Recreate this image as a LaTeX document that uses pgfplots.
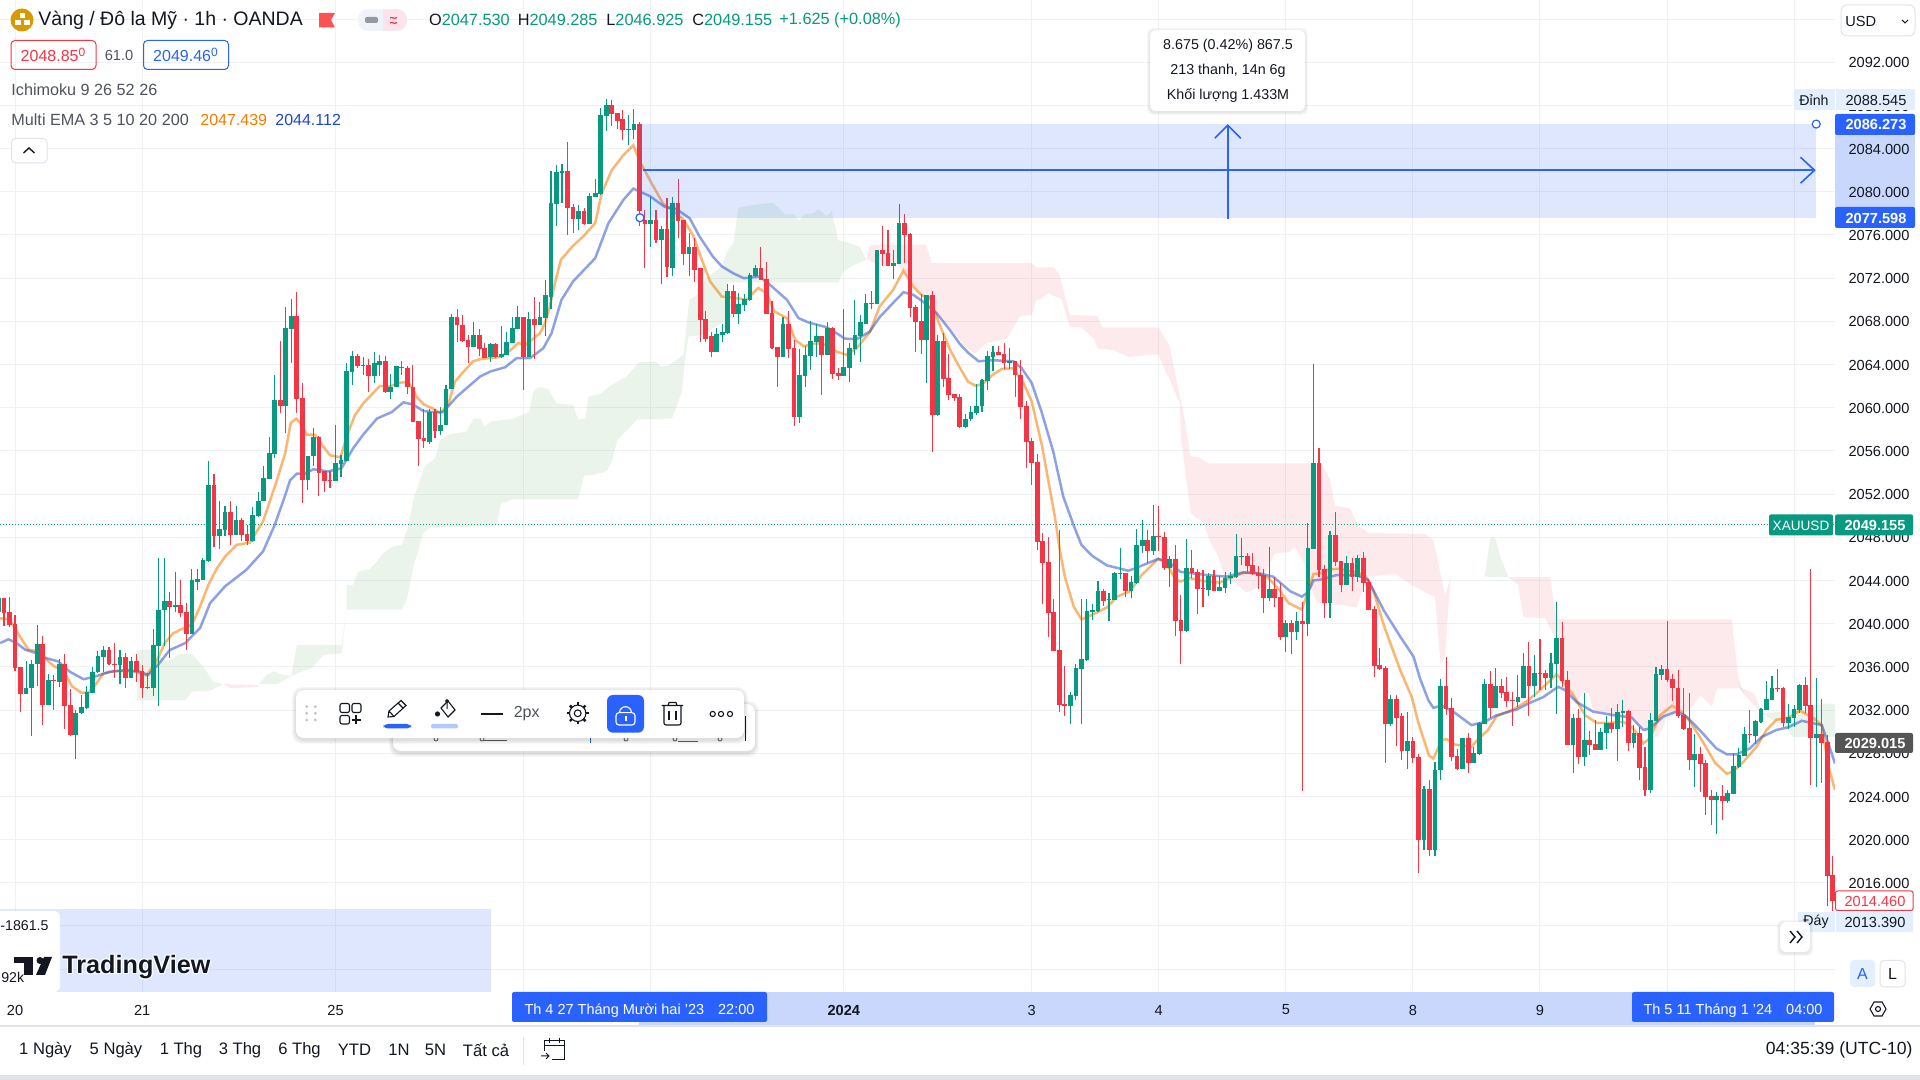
\documentclass[border=0pt]{standalone}
\usepackage{fontspec}
\setmainfont{Liberation Sans}
\usepackage{pgfplots}
\pgfplotsset{compat=1.18}
\usepackage{pgfplotstable}
\usetikzlibrary{arrows.meta,calc}
\definecolor{up}{HTML}{089981}
\definecolor{dn}{HTML}{F23645}
\definecolor{sel}{HTML}{2962FF}
\definecolor{txt}{HTML}{131722}
\definecolor{muted}{HTML}{50535E}
\definecolor{gridc}{HTML}{EFF1F5}
\definecolor{emaO}{HTML}{F57C00}
\definecolor{emaB}{HTML}{1E47C8}
\definecolor{cloudG}{HTML}{43A047}
\definecolor{band}{HTML}{C9D7FC}
\definecolor{tagl}{HTML}{E3EFFD}
\definecolor{line}{HTML}{E0E3EB}
\definecolor{gold}{HTML}{D99A00}
\definecolor{flag}{HTML}{FF5252}
\definecolor{pillg}{HTML}{F0F3FA}
\definecolor{pillp}{HTML}{FCE4EC}
\definecolor{darktag}{HTML}{555555}
\newcommand\fs[1]{\fontsize{#1}{#1}\selectfont}

% i, top of body, bottom of body, high, low
\pgfplotstableread{
i t b h l
-1 2042.4 2041.1 2042.5 2041.0
4 2034.0 2033.5 2036.5 2033.5
5 2036.3 2034.0 2036.6 2029.6
6 2038.1 2036.3 2039.9 2034.2
8 2034.8 2032.5 2035.3 2032.5
10 2036.3 2034.6 2036.7 2034.1
13 2031.7 2029.7 2032.0 2027.5
14 2032.3 2031.7 2033.4 2031.6
15 2033.7 2032.2 2034.2 2032.1
16 2035.5 2033.6 2036.0 2033.6
17 2037.0 2035.5 2037.5 2035.4
18 2037.6 2036.9 2037.9 2035.5
21 2036.9 2036.2 2037.6 2034.4
23 2036.5 2035.0 2036.9 2035.0
27 2038.0 2034.0 2039.5 2033.3
28 2041.3 2037.9 2046.1 2032.4
29 2042.1 2041.3 2046.1 2037.9
31 2041.7 2041.5 2044.8 2041.1
34 2044.0 2039.0 2045.1 2039.0
35 2044.1 2043.9 2045.1 2043.1
36 2045.9 2044.0 2046.1 2044.0
37 2052.8 2045.8 2055.1 2045.7
39 2048.8 2048.1 2051.4 2046.9
40 2050.3 2048.7 2050.9 2048.1
42 2049.6 2048.2 2050.9 2048.2
45 2050.1 2047.7 2050.8 2047.6
46 2051.4 2050.0 2052.2 2049.9
47 2053.5 2051.4 2054.6 2051.4
48 2055.8 2053.4 2057.3 2053.4
49 2060.7 2055.7 2063.0 2055.3
51 2067.4 2060.2 2069.3 2057.7
52 2068.5 2067.3 2070.1 2064.1
55 2055.5 2053.3 2055.5 2052.4
56 2057.3 2055.5 2058.1 2054.6
60 2054.9 2053.2 2058.4 2053.2
61 2055.2 2054.8 2055.6 2053.6
62 2063.4 2055.1 2064.1 2055.1
63 2064.8 2063.3 2065.3 2062.1
65 2064.0 2063.9 2064.7 2063.0
67 2064.1 2062.9 2065.2 2062.3
68 2064.3 2064.0 2064.9 2062.9
70 2061.9 2061.5 2063.1 2060.8
71 2063.9 2061.9 2063.9 2061.9
77 2059.6 2056.8 2059.9 2056.6
79 2058.4 2057.8 2060.1 2057.5
80 2061.7 2058.4 2062.1 2058.4
81 2068.4 2061.7 2068.7 2061.7
85 2066.7 2065.6 2067.9 2065.6
88 2065.9 2064.7 2066.0 2064.2
90 2065.0 2064.7 2067.6 2064.6
91 2066.1 2064.9 2067.0 2064.9
92 2067.4 2066.0 2068.4 2066.0
93 2068.4 2067.3 2069.4 2067.3
95 2068.2 2064.7 2068.9 2064.7
97 2068.4 2067.7 2069.8 2067.7
98 2070.4 2068.3 2071.8 2066.6
99 2079.0 2070.3 2081.9 2069.1
100 2081.8 2078.9 2082.5 2076.8
101 2081.9 2081.7 2082.6 2079.0
104 2078.2 2077.5 2078.8 2076.5
106 2079.6 2077.0 2079.9 2077.0
107 2079.9 2079.5 2081.2 2079.5
108 2087.1 2079.8 2087.8 2079.7
109 2088.0 2087.0 2088.6 2085.6
113 2085.8 2085.7 2087.1 2084.3
114 2086.3 2085.7 2087.7 2084.9
117 2077.4 2077.0 2079.5 2074.9
119 2076.6 2075.5 2076.8 2071.5
121 2079.0 2072.9 2079.5 2072.2
124 2074.9 2074.2 2076.2 2072.2
129 2066.8 2065.2 2067.4 2065.2
130 2067.0 2066.7 2067.8 2066.1
131 2070.8 2066.9 2071.5 2066.8
133 2069.6 2068.7 2070.6 2067.8
134 2070.1 2069.5 2070.5 2069.0
135 2072.3 2070.0 2072.5 2069.9
136 2072.9 2072.2 2073.2 2072.1
141 2067.8 2064.7 2068.4 2064.7
144 2063.0 2059.1 2065.4 2058.6
145 2064.9 2062.9 2065.7 2061.9
146 2066.2 2064.8 2068.0 2063.5
147 2066.6 2066.1 2067.8 2064.7
149 2067.4 2064.9 2067.9 2064.9
152 2063.8 2062.9 2069.1 2062.9
153 2065.5 2063.7 2066.0 2062.4
154 2066.7 2065.4 2070.0 2064.9
155 2067.9 2066.6 2068.6 2064.2
156 2069.7 2067.8 2070.5 2067.8
157 2069.7 2069.6 2070.8 2069.1
158 2074.6 2069.6 2074.6 2069.6
161 2073.4 2073.1 2074.6 2071.9
162 2077.1 2073.3 2078.9 2073.3
167 2070.4 2066.3 2070.4 2062.3
169 2066.2 2059.3 2066.7 2059.2
174 2059.0 2058.2 2059.4 2058.1
175 2059.6 2059.0 2060.2 2058.8
176 2060.2 2059.5 2062.2 2059.3
177 2062.6 2060.2 2062.7 2059.6
178 2064.8 2062.5 2065.3 2061.6
179 2065.2 2064.7 2065.7 2063.4
182 2064.3 2064.1 2065.5 2063.6
193 2033.4 2032.4 2033.7 2030.7
194 2035.9 2033.3 2036.3 2032.9
195 2036.7 2035.8 2042.3 2030.7
196 2041.2 2036.6 2042.3 2036.5
197 2041.3 2041.1 2041.8 2040.3
198 2043.0 2041.2 2043.95 2041.1
200 2042.3 2042.2 2042.8 2040.2
201 2044.7 2042.2 2044.75 2042.2
202 2044.7 2044.6 2047.0 2044.1
204 2043.9 2043.0 2044.4 2042.4
205 2047.3 2043.8 2048.8 2043.7
206 2047.75 2047.2 2049.6 2046.5
208 2048.1 2046.7 2051.0 2046.4
211 2046.0 2045.2 2046.3 2043.4
214 2045.2 2039.3 2047.8 2039.2
218 2044.4 2043.1 2044.7 2042.6
220 2043.4 2043.0 2044.4 2043.0
221 2044.2 2043.3 2044.8 2042.8
222 2044.4 2044.2 2044.8 2043.7
223 2046.3 2044.3 2048.3 2044.2
224 2046.3 2046.2 2047.9 2045.4
229 2043.2 2042.4 2047.1 2042.1
232 2040.05 2038.8 2040.3 2037.4
234 2040.2 2039.2 2041.1 2038.5
236 2047.0 2040.0 2049.3 2038.85
237 2054.9 2046.9 2064.05 2046.9
240 2048.2 2041.9 2048.6 2040.5
243 2045.6 2043.6 2046.3 2043.6
245 2046.1 2044.3 2046.4 2043.9
251 2033.0 2030.7 2033.4 2030.5
254 2029.1 2028.2 2031.8 2026.5
257 2024.7 2020.0 2025.0 2019.0
259 2026.4 2019.0 2027.15 2018.5
260 2034.2 2026.4 2034.85 2025.5
264 2029.4 2026.5 2029.4 2026.5
266 2028.0 2027.1 2028.6 2027.1
267 2030.8 2027.9 2030.9 2027.8
268 2034.4 2030.7 2034.9 2030.7
270 2034.2 2032.2 2035.85 2032.2
274 2033.2 2032.75 2035.2 2032.3
275 2036.1 2033.1 2037.25 2033.1
277 2035.4 2034.2 2037.1 2033.2
280 2036.35 2034.95 2037.25 2034.0
281 2038.7 2036.3 2042.0 2031.6
284 2031.3 2028.8 2031.65 2026.2
286 2029.2 2027.65 2033.6 2026.8
289 2030.0 2028.3 2030.3 2028.3
290 2030.8 2029.9 2031.4 2028.4
292 2031.8 2030.2 2032.55 2027.3
293 2031.9 2031.75 2032.9 2030.45
295 2029.9 2028.95 2030.6 2028.45
298 2031.1 2024.6 2031.75 2024.35
299 2035.3 2031.0 2036.0 2031.0
300 2035.8 2035.25 2036.2 2034.8
306 2027.9 2027.35 2029.8 2024.9
310 2024.0 2023.7 2024.45 2020.5
312 2024.3 2023.55 2024.6 2023.4
313 2026.8 2024.2 2028.0 2024.2
314 2027.8 2026.7 2028.45 2026.65
315 2029.8 2027.75 2030.45 2027.75
317 2031.0 2029.6 2031.1 2028.85
318 2032.1 2030.9 2032.15 2030.8
319 2033.0 2032.0 2034.7 2032.0
320 2034.05 2032.9 2035.15 2032.9
323 2031.35 2030.8 2032.55 2030.25
324 2032.1 2031.25 2032.45 2030.45
325 2034.3 2032.0 2034.45 2031.7
328 2029.8 2029.4 2035.0 2024.9
}\upbars

\pgfplotstableread{
i t b h l
0 2042.4 2041.0 2042.4 2039.8
1 2041.1 2039.9 2042.5 2039.7
2 2040.0 2035.9 2040.8 2035.6
3 2036.0 2033.5 2036.0 2031.8
7 2038.1 2032.5 2038.9 2030.6
9 2034.8 2034.7 2035.2 2032.0
11 2036.3 2032.4 2037.2 2030.2
12 2032.5 2029.7 2033.9 2029.6
19 2037.6 2036.3 2037.8 2036.2
20 2036.3 2036.2 2038.2 2035.0
22 2036.9 2035.0 2037.3 2034.0
24 2036.5 2035.5 2037.2 2034.6
25 2035.6 2034.0 2036.2 2033.1
26 2034.1 2034.0 2035.4 2033.9
30 2042.1 2041.5 2042.9 2036.8
32 2041.7 2041.0 2044.0 2040.6
33 2041.1 2039.0 2041.9 2037.6
38 2052.8 2048.1 2053.9 2047.1
41 2050.3 2048.2 2051.4 2047.3
43 2049.6 2048.2 2049.8 2047.7
44 2048.3 2047.7 2049.1 2047.3
50 2060.7 2060.2 2066.2 2059.5
53 2068.5 2060.8 2070.7 2059.5
54 2060.9 2053.3 2062.3 2051.2
57 2057.3 2054.0 2057.4 2051.8
58 2054.1 2053.2 2054.1 2052.2
59 2053.3 2053.2 2054.1 2052.6
64 2064.8 2063.9 2065.0 2063.7
66 2064.0 2062.9 2064.5 2061.5
69 2064.3 2061.5 2064.8 2061.4
72 2063.8 2063.7 2064.3 2063.0
73 2063.7 2061.9 2063.9 2061.3
74 2061.9 2058.7 2064.0 2058.7
75 2058.8 2057.1 2058.8 2054.6
76 2057.2 2056.9 2059.9 2056.3
78 2059.6 2057.8 2059.9 2057.2
82 2068.4 2067.7 2069.1 2066.1
83 2067.7 2066.2 2068.6 2066.1
84 2066.3 2065.6 2066.7 2064.1
86 2066.7 2065.4 2067.3 2064.8
87 2065.5 2064.6 2066.0 2064.6
89 2065.9 2064.7 2066.0 2064.6
94 2068.4 2064.7 2068.4 2061.6
96 2068.2 2067.7 2070.3 2064.5
102 2081.9 2078.5 2084.6 2076.0
103 2078.6 2077.5 2078.9 2076.2
105 2078.2 2077.0 2078.5 2076.9
110 2088.0 2087.2 2088.5 2086.1
111 2087.3 2086.6 2087.3 2085.8
112 2086.7 2085.7 2087.6 2084.8
115 2086.3 2078.2 2086.5 2076.8
116 2077.4 2077.0 2078.3 2072.9
118 2077.4 2075.5 2078.3 2075.3
120 2076.6 2073.0 2079.4 2072.1
122 2079.0 2077.3 2081.2 2075.7
123 2077.4 2074.2 2077.4 2073.2
125 2074.9 2072.8 2075.7 2071.6
126 2072.9 2068.1 2072.9 2066.1
127 2068.2 2066.4 2069.0 2066.1
128 2066.6 2065.2 2067.0 2064.7
132 2070.8 2068.7 2071.4 2068.4
137 2072.9 2071.8 2074.9 2071.8
138 2071.9 2068.7 2073.5 2068.7
139 2068.8 2065.5 2069.9 2065.4
140 2065.6 2064.7 2065.6 2061.9
142 2067.8 2065.4 2069.0 2064.6
143 2065.5 2059.1 2066.3 2058.3
148 2066.6 2064.9 2066.6 2061.2
150 2067.4 2063.1 2067.5 2062.7
151 2063.2 2062.9 2063.7 2062.6
159 2074.6 2074.2 2076.8 2073.1
160 2074.3 2073.1 2076.5 2073.1
163 2077.1 2076.0 2077.9 2073.4
164 2076.1 2069.2 2076.2 2068.4
165 2069.3 2067.9 2069.5 2065.2
166 2068.0 2066.3 2070.5 2065.0
168 2070.4 2059.3 2070.8 2055.9
170 2066.2 2062.7 2066.9 2061.9
171 2062.8 2061.2 2065.0 2060.7
172 2061.3 2060.9 2061.3 2060.6
173 2061.0 2058.2 2061.3 2058.1
180 2065.2 2064.9 2065.7 2064.9
181 2065.0 2064.1 2066.0 2063.6
183 2064.3 2063.0 2064.3 2061.0
184 2063.0 2060.1 2064.4 2059.0
185 2060.2 2056.8 2060.6 2054.4
186 2056.9 2054.9 2057.2 2052.8
187 2055.0 2047.6 2055.7 2046.8
188 2047.65 2045.6 2048.4 2041.8
189 2045.7 2041.0 2048.0 2038.8
190 2041.1 2037.5 2042.3 2037.5
191 2037.6 2032.5 2048.7 2031.8
192 2032.6 2032.4 2036.1 2031.4
199 2043.0 2042.1 2043.2 2041.6
203 2044.7 2043.0 2044.7 2042.5
207 2047.75 2046.7 2048.7 2045.6
209 2048.1 2048.0 2050.9 2046.7
210 2048.0 2045.2 2048.5 2045.0
212 2046.0 2040.2 2047.3 2038.85
213 2040.3 2039.3 2042.65 2036.3
215 2045.2 2044.7 2046.8 2044.2
216 2044.8 2043.2 2045.1 2040.9
217 2043.3 2043.2 2045.0 2041.5
219 2044.4 2043.0 2045.0 2043.0
225 2046.3 2045.3 2046.5 2044.8
226 2045.4 2044.6 2046.5 2044.5
227 2044.7 2044.4 2045.3 2043.2
228 2044.5 2042.4 2045.1 2041.0
230 2043.2 2042.4 2044.35 2041.5
231 2042.5 2038.8 2043.8 2038.5
233 2040.05 2039.2 2040.3 2037.2
235 2040.2 2040.0 2042.0 2024.5
238 2054.9 2045.0 2056.3 2044.35
239 2045.1 2041.9 2045.45 2040.5
241 2048.2 2045.7 2050.3 2045.3
242 2045.8 2043.6 2045.8 2042.9
244 2045.6 2044.3 2046.05 2043.0
246 2046.1 2043.8 2046.6 2042.9
247 2043.85 2041.3 2044.1 2041.3
248 2041.35 2036.1 2041.6 2035.1
249 2036.2 2035.8 2037.7 2035.7
250 2035.9 2030.7 2036.1 2027.1
252 2033.0 2031.3 2033.4 2028.7
253 2031.4 2028.2 2031.75 2027.4
255 2029.1 2027.6 2029.5 2027.1
256 2027.65 2020.0 2027.9 2016.9
258 2024.7 2019.0 2025.5 2018.5
261 2034.2 2032.1 2036.9 2031.5
262 2032.2 2027.65 2033.1 2027.3
263 2027.7 2026.5 2028.35 2026.45
265 2029.4 2027.1 2029.85 2026.2
269 2034.4 2032.2 2035.6 2031.3
271 2034.2 2033.6 2034.9 2033.1
272 2033.65 2032.8 2035.1 2032.3
273 2032.9 2032.8 2033.7 2030.5
276 2036.1 2034.2 2038.3 2031.4
278 2035.4 2035.3 2038.6 2033.85
279 2035.4 2034.95 2035.7 2033.85
282 2038.7 2034.7 2040.15 2034.15
283 2034.8 2028.8 2035.65 2028.8
285 2031.3 2027.65 2032.05 2027.0
287 2029.2 2028.8 2030.05 2027.8
288 2028.85 2028.3 2031.1 2028.3
291 2030.8 2030.2 2032.15 2029.85
294 2031.9 2028.95 2032.0 2028.2
296 2029.9 2026.6 2030.45 2025.5
297 2026.7 2024.6 2028.6 2024.0
301 2035.8 2034.8 2040.25 2034.6
302 2034.9 2034.0 2035.3 2032.85
303 2034.05 2031.45 2035.7 2031.3
304 2031.55 2030.25 2034.0 2030.15
305 2030.3 2027.35 2033.55 2026.45
307 2027.9 2027.0 2028.55 2024.45
308 2027.1 2023.95 2027.35 2022.3
309 2024.0 2023.7 2024.6 2021.35
311 2024.0 2023.55 2025.05 2021.8
316 2029.8 2029.7 2032.0 2028.9
321 2034.05 2034.0 2035.8 2033.7
322 2034.0 2030.8 2034.1 2030.4
326 2034.3 2032.35 2035.1 2031.7
327 2032.45 2029.4 2045.1 2025.05
329 2029.8 2028.95 2033.0 2025.2
330 2029.05 2016.6 2029.7 2013.8
331 2016.7 2014.3 2018.5 2013.4
}\dnbars

\begin{document}
\begin{tikzpicture}
\path[use as bounding box, fill=white] (0,0) rectangle (960pt,540pt);

% strips that sit under the tick labels
\begin{scope}[x=0.5pt,y=-0.5pt,yshift=540pt]
  \fill[band] (639,992) rectangle (1815,1026);
  \fill[band] (1835,124) rectangle (1915,218);
\end{scope}

\begin{axis}[
    at={(0pt,44pt)}, anchor=south west,
    scale only axis,
    width=917.5pt, height=496pt,
    xmin=-0.724, xmax=331.4,
    ymin=2005.88, ymax=2097.77,
    axis line style={draw=none},
    major tick length=0pt,
    grid=major,
    major grid style={line width=0.5pt,color=gridc},
    xtick={2,25,60,94,117,152,186,209,232,255,278,301,324},
    xticklabels={20,21,25,,,\textbf{2024},3,4,5,8,9,,},
    xticklabel style={anchor=center,yshift=-9pt,font=\fs{7.3},text=txt},
    ytick={2016,2020,...,2092},
    yticklabel pos=right,
    yticklabel style={anchor=center,xshift=22pt,yshift=-0.3pt,font=\fs{7.3},text=txt,
      /pgf/number format/fixed,/pgf/number format/fixed zerofill,
      /pgf/number format/precision=3,/pgf/number format/1000 sep={},
      /pgf/number format/assume math mode=true},
    extra y ticks={2096,2012,2008},
    extra y tick labels={},
    extra tick style={grid=major},
]
% Ichimoku cloud
\addplot[draw=none,fill=cloudG,fill opacity=0.11] coordinates {(24.1,2037.5)(26.4,2037.6)(29.5,2036.5)(31.9,2037.2)(34,2037.2)(36.1,2036)(37.9,2034.6)(39.7,2034.4)(37.3,2033.8)(34,2033.7)(32.8,2032.9)(24.1,2032.9)} --cycle;
\addplot[draw=none,fill=dn,fill opacity=0.1] coordinates {(39.7,2034.4)(46,2034.3)(46,2034.15)(41,2034)} --cycle;
\addplot[draw=none,fill=cloudG,fill opacity=0.11] coordinates {(46.2,2034.4)(47.5,2035.25)(49,2035.6)(50,2035.3)(52,2035.15)(53,2038)(61.1,2038)(62,2041.3)(62,2043.6)(63.2,2043.6)(64.1,2044.8)(66.3,2045.1)(67.4,2045.7)(68.4,2046.4)(70.2,2047.1)(72,2047.3)(73.2,2049)(74.1,2051.5)(75.3,2053.3)(76.2,2054.6)(78,2055.3)(78.9,2057)(80.4,2057.5)(83.7,2057.8)(85,2059)(86.2,2059)(87,2058.2)(88,2058.7)(92.2,2059)(95,2059.6)(95.9,2061.6)(97,2061.95)(98.5,2061.7)(100,2060.4)(103,2060.25)(103.9,2058.9)(105.2,2059)(105.8,2061)(108,2061.3)(109.5,2061.95)(112.7,2062.9)(114.9,2064.2)(117.8,2064.3)(119,2063.8)(120.3,2063.9)(123,2064.9)(123.4,2066.9)(124,2070)(126,2070.6)(127,2072)(130,2073.1)(131,2074.6)(132,2075.2)(132.9,2078.5)(134.4,2078.7)(139.2,2079)(141.3,2077.9)(143.1,2077.9)(143.9,2077.3)(144.9,2077.95)(146.5,2078)(147.4,2078.4)(148.9,2077.75)(149.8,2078.2)(151,2075.5)(152.2,2075.4)(154.9,2074.9)(156.1,2073.7)(153.7,2073.2)(151.9,2072.6)(151,2071.6)(139.2,2071.6)(131,2071.6)(130.5,2068)(126,2066.7)(123.9,2066.6)(123.3,2064.7)(122.7,2061.5)(120.9,2059)(114.5,2058.9)(112.7,2057.9)(111,2057)(110,2055)(109.1,2054.1)(106.7,2053.8)(105,2053.7)(103.9,2051.5)(91.9,2051.5)(89.9,2051.1)(89.2,2049.1)(77.1,2048.9)(75.9,2048.4)(74.1,2045.3)(72.9,2042.2)(72,2041.3)(62,2041.3)(61.1,2037.25)(57.8,2037.1)(55.7,2035.9)(52.4,2035.25)(49.4,2034.4)} --cycle;
\addplot[draw=none,fill=dn,fill opacity=0.1] coordinates {(156.1,2073.8)(156.8,2075.1)(166.9,2075.1)(167.9,2073.4)(186,2073.4)(186.9,2073)(189.9,2073)(191,2072.4)(192.9,2068.6)(197.9,2068.5)(198.8,2067.45)(208.9,2067.45)(210.9,2065.8)(213.7,2058.9)(214.7,2055.5)(216.2,2055.4)(218,2054.85)(238.5,2054.85)(240,2053.3)(240.9,2050.9)(243.6,2050.7)(245.1,2049.1)(246.9,2048.4)(257.2,2048.3)(258.7,2047.75)(260.8,2042.65)(261.8,2044.2)(260.8,2036.95)(260,2036.2)(259,2042.5)(257.2,2042.9)(254.4,2043.7)(251.7,2044.65)(247.2,2044.35)(245.4,2042.5)(244.8,2041.5)(242.4,2041.7)(237.8,2041.9)(236.9,2042.8)(235.7,2045.3)(233.6,2047.1)(232.7,2046.65)(230,2046.5)(227,2043.3)(224.8,2042.9)(220.7,2044.65)(219.8,2046.2)(218.2,2047.7)(217,2049.4)(214.8,2050.2)(213,2057.3)(212.8,2060.4)(211,2062.6)(210.1,2063.5)(208.9,2064.95)(207.4,2064.9)(203.5,2064.7)(200.8,2065.35)(197.9,2065.5)(197.4,2066.3)(195,2067.45)(192.9,2067.45)(191.4,2070.1)(190,2070.35)(189,2070.65)(187.8,2070.1)(186.8,2070)(186,2068.6)(183.9,2068.5)(181.5,2066.4)(177.8,2066)(175.7,2065)(173.6,2065.8)(171.2,2067.5)(168.2,2069.05)(161.5,2073.4)(159.7,2073.1)(157.6,2073.4)} --cycle;
\addplot[draw=none,fill=cloudG,fill opacity=0.11] coordinates {(268,2044.35)(269,2048)(269.9,2048)(270.8,2046.2)(272.3,2044.3)} --cycle;
\addplot[draw=none,fill=dn,fill opacity=0.1] coordinates {(272.3,2044.3)(279.8,2044.3)(281,2040.4)(312.7,2040.4)(313.9,2034.9)(314.3,2034.1)(316.8,2033.55)(318.1,2031.7)(314.8,2033.55)(314.2,2034)(310,2034)(309.1,2032.3)(307,2033.4)(305.5,2032.3)(304,2031.5)(301,2031.7)(300.4,2030.5)(299.2,2029.5)(298,2029.5)(296.4,2030.45)(294.9,2031.2)(291.3,2031.6)(287.6,2032)(286.8,2033.55)(285.6,2033.6)(284.6,2032.6)(283.4,2033.85)(282.2,2034.8)(281,2038.5)(278.9,2040.5)(275,2040.6)(274,2043.6)} --cycle;
\addplot[draw=none,fill=cloudG,fill opacity=0.11] coordinates {(318.1,2031.7)(322,2031.85)(326.5,2032.3)(329.6,2032.6)(331.4,2032.55)(331.4,2029.5)(323.9,2029.5)(322.1,2030.45)} --cycle;
\addplot[draw=none,fill=cloudG,fill opacity=0.11] coordinates {(313.9,2034.9)(315,2033.4)(314.2,2034)} --cycle;

% current price
\addplot[color=up,line width=0.5pt,dash pattern=on 0.5pt off 1pt] coordinates {(-0.724,2049.155)(331.4,2049.155)};

% EMA lines
\addplot[color=emaO,opacity=0.55,line width=1.25pt] coordinates {(-0.7,2040.5)(1,2040.4)(2.9,2038.8)(4.4,2037.6)(5.6,2037.5)(7.1,2036.9)(9.2,2036)(10.7,2035.7)(12.3,2034.2)(14,2033.6)(15.3,2033.6)(16.5,2034.3)(18,2035.4)(20.1,2035.6)(23.1,2035.6)(25.8,2035.2)(27.6,2036.5)(29.1,2038.2)(30.6,2039.1)(32.2,2039.5)(34,2039.9)(35.5,2041.6)(37,2043.6)(38.5,2045.1)(40,2046.2)(42.1,2047.3)(44.5,2047.5)(46.9,2049.5)(49.4,2053.3)(50.9,2055.8)(51.9,2058.6)(52.9,2059)(53.9,2058.4)(54.8,2057.5)(56.3,2057.5)(57.8,2056.4)(59,2055.6)(60.9,2055.4)(62,2057.3)(63.5,2059.3)(65,2060.4)(66.5,2061.2)(68,2062)(69.9,2062)(71.4,2062.3)(73.2,2062.4)(74.7,2061)(76,2060.3)(77.7,2059.9)(78.9,2059.5)(80.4,2060.3)(81.6,2062.4)(83.1,2063.3)(84.9,2064.3)(86.2,2064.5)(88,2064.6)(89.8,2064.7)(91.6,2065.3)(93.1,2066)(94.3,2065.8)(97,2066.9)(97.9,2067.8)(98.8,2069.4)(99.7,2071.5)(100.8,2073.7)(102.8,2074.9)(104.9,2075.9)(107,2077.1)(108.2,2079.9)(110,2082)(112.1,2083.4)(113.9,2084.3)(115.1,2082.8)(117.2,2080.8)(119.3,2078.9)(121.2,2078.2)(123,2077.4)(124.8,2075.9)(126.3,2073.7)(127.8,2071.7)(129.9,2070.3)(132,2070.2)(134.4,2070)(136.5,2071.1)(138,2070.6)(139.5,2068.9)(141.7,2068.3)(143.2,2066.3)(144.7,2065.7)(147.1,2065.97)(148.9,2065.8)(150.7,2065.2)(152.5,2064.9)(154.3,2065.5)(156.7,2067)(158.5,2069.4)(160.9,2070.9)(162.8,2072.7)(164.6,2071.2)(166.1,2070.4)(167.6,2070.2)(169.1,2068)(171.2,2065.4)(173,2063.7)(174.5,2062.4)(176,2062)(177.3,2062.3)(178.8,2063)(180.6,2063.6)(182.7,2063.65)(184.5,2062.3)(186,2060.6)(187.9,2056.4)(189.1,2053)(190.2,2049.9)(191.1,2046.8)(192,2044.35)(193.6,2041.6)(195,2040.4)(196.9,2040.8)(199.6,2041.5)(201.4,2042.5)(203.8,2043)(205.9,2044.5)(207.7,2045.4)(208.9,2046)(210.4,2045.6)(211.9,2044.2)(212.9,2043.9)(214.7,2044.2)(217,2043.95)(220,2043.8)(221.9,2044.2)(224.3,2044.7)(226.4,2044.7)(228.9,2044.2)(231,2043)(232.5,2041.9)(234.9,2041.3)(236.1,2043.1)(237,2044.6)(238.2,2044.65)(239.7,2045)(241.8,2045.1)(244.2,2044.8)(246.3,2044.5)(247.8,2043.1)(249.9,2039.6)(252.7,2035.7)(254.8,2033.2)(256,2030.8)(257.9,2027.8)(258.7,2027.5)(260.2,2029.2)(261.1,2029.3)(262.6,2028.8)(265.6,2028.6)(267,2029.4)(268.6,2030.15)(270.1,2031.4)(273.5,2032.15)(275.9,2032.9)(278,2033.85)(281,2035.3)(282.2,2034.6)(284,2033.4)(286.2,2031.5)(288.3,2030.8)(290.1,2030.8)(293.1,2030.9)(294.9,2030.3)(296.7,2028.9)(297.9,2029.4)(299.7,2031.5)(301.9,2032.4)(303.6,2031.85)(305.2,2030.9)(307.3,2029.2)(309.7,2027.1)(311.8,2026.1)(313,2026.3)(314.8,2027.2)(317.2,2028.6)(319,2030.15)(320.8,2031.1)(322.9,2031.25)(325,2031.95)(327.5,2031.25)(329,2030.6)(330.2,2026.75)(331.4,2024.6)};
\addplot[color=emaB,opacity=0.5,line width=1.25pt] coordinates {(-0.7,2038.2)(0.8,2038.55)(2.3,2038.2)(3.8,2037.6)(5.9,2037.25)(7.7,2036.8)(9.8,2036.5)(11.9,2035.55)(14.4,2034.85)(16.5,2035.1)(19.2,2035.55)(22.2,2035.7)(24.6,2035.55)(26.1,2035.25)(27.9,2036.2)(30,2037.55)(32.8,2038.2)(35.5,2039.6)(37.3,2041.9)(40,2043.45)(43.9,2045)(46.9,2046.7)(49,2049.15)(50.6,2051.45)(51.8,2053.3)(53,2053.9)(54.5,2053.9)(56,2054.3)(58.7,2054.1)(61.1,2054.4)(63.2,2056.25)(65,2057.5)(67.5,2059)(70.2,2059.6)(72.3,2060.5)(74,2060.3)(75.9,2059.7)(77.7,2059.6)(79.5,2059.6)(81.9,2061)(83.7,2061.8)(86.2,2062.9)(88,2063.35)(90.7,2063.75)(92.8,2064.6)(95.2,2064.6)(97.6,2065.5)(99.1,2066.9)(100.9,2070)(103,2071.7)(107,2073.85)(109.4,2077.1)(112.1,2079.25)(113.9,2080.3)(116.9,2079.6)(119.6,2078.6)(121.7,2078.4)(124.1,2077.55)(125.9,2075.85)(128.3,2074)(129.9,2073.1)(132,2072.45)(133.9,2072)(136.8,2072.15)(138.6,2071.4)(141.7,2070)(143.8,2068.3)(145.6,2067.9)(148.9,2067.45)(150.7,2066.9)(152.2,2066.4)(154.3,2066.35)(156.7,2067.05)(158.5,2068.4)(160.9,2069.7)(162.8,2070.7)(164.6,2070.45)(166.4,2069.8)(168.8,2068.75)(171.2,2067.2)(173,2065.9)(174.5,2065.1)(176.4,2064.3)(179.1,2064.4)(182.7,2064.3)(184.2,2063.65)(186,2062.3)(187.8,2059.6)(189.9,2055.95)(191.7,2051.8)(193.6,2049.1)(195,2047.3)(196.9,2046.3)(199.6,2045.4)(203.5,2044.9)(205.6,2045.3)(208.9,2046)(210.7,2045.75)(212.9,2044.8)(217.7,2044.5)(221.3,2044.35)(224.3,2044.75)(227.3,2044.65)(229.7,2044.35)(232.8,2043)(234.9,2042.5)(236.1,2042.95)(237,2044)(238.5,2044.1)(241.2,2044.5)(244.8,2044.5)(246.9,2044.05)(249.7,2041.25)(252.7,2038.8)(255.1,2036.95)(256.3,2034.9)(257.8,2032.9)(258.7,2032.2)(260.2,2032.4)(262.3,2031.85)(265.6,2030.6)(268,2030.9)(270.1,2031.5)(273.8,2032.05)(275.9,2032.6)(278.6,2033.2)(281.3,2034.15)(282.5,2033.85)(284.6,2032.75)(287.6,2031.85)(291.6,2031.5)(294.6,2031.3)(296.7,2030.15)(297.9,2030.3)(300.3,2031.4)(302.7,2031.85)(304.5,2031.4)(306.9,2030.15)(309.9,2028.45)(311.8,2027.9)(313.6,2027.9)(316,2028.45)(318.1,2029.5)(320.8,2030.15)(322.9,2030.4)(325.4,2031)(329,2030.6)(330.2,2028.9)(331.4,2027.05)};

% candles: wicks, then bodies
\addplot[draw=none,no markers,forget plot,error bars/.cd,y dir=both,y explicit,error mark=none,
  error bar style={draw=up,line width=0.55pt}]
  table[x=i,y=t,y error plus expr=\thisrow{h}-\thisrow{t},y error minus expr=\thisrow{t}-\thisrow{l}] {\upbars};
\addplot[draw=none,no markers,forget plot,error bars/.cd,y dir=both,y explicit,error mark=none,
  error bar style={draw=dn,line width=0.55pt}]
  table[x=i,y=t,y error plus expr=\thisrow{h}-\thisrow{t},y error minus expr=\thisrow{t}-\thisrow{l}] {\dnbars};
\addplot[draw=none,no markers,forget plot,error bars/.cd,y dir=minus,y explicit,error mark=none,
  error bar style={draw=up,line width=2.35pt}]
  table[x=i,y=t,y error minus expr=\thisrow{t}-\thisrow{b}] {\upbars};
\addplot[draw=none,no markers,forget plot,error bars/.cd,y dir=minus,y explicit,error mark=none,
  error bar style={draw=dn,line width=2.35pt}]
  table[x=i,y=t,y error minus expr=\thisrow{t}-\thisrow{b}] {\dnbars};

% long-position box and its arrows
\addplot[draw=none,fill=sel,fill opacity=0.15] coordinates {(115.1,2086.273)(327.9,2086.273)(327.9,2077.598)(115.1,2077.598)} --cycle;
\addplot[draw=none,fill=sel,fill opacity=0.15] coordinates {(-0.724,2013.57)(88.1,2013.57)(88.1,2005.88)(-0.724,2005.88)} --cycle;
\addplot[color=sel,line width=0.9pt,-{Straight Barb[length=7pt,width=13pt,line width=0.8pt]}] coordinates {(115.6,2082.0)(327.9,2082.0)};
\addplot[color=sel,line width=0.8pt,-{Straight Barb[length=6.5pt,width=13pt,line width=0.8pt]}] coordinates {(221.5,2077.5)(221.5,2086.27)};
\addplot[only marks,mark=*,mark size=2pt,mark options={draw=sel,fill=white,line width=0.6pt}] coordinates {(115.1,2077.598)(328,2086.273)};
\end{axis}

\begin{scope}[x=0.5pt,y=-0.5pt,yshift=540pt,every node/.style={inner sep=0pt,text=txt}]
  % header
  \fill[gold] (22,20) circle (11.5);
  \fill[white] (19.5,13) rectangle (24.5,18);
  \fill[white] (14.5,20) rectangle (20.5,25.5);
  \fill[white] (23.5,20) rectangle (29.5,25.5);
  \node[anchor=west] at (38,20.5) {\fs{9.75}Vàng / Đô la Mỹ · 1h · OANDA};
  \fill[flag] (319,13) -- (335,13) -- (331,20) -- (335,27.5) -- (319,27.5) -- cycle;
  \fill[pillg,rounded corners=5pt] (358,9) rectangle (390,31);
  \fill[pillp,rounded corners=5pt] (383,9) rectangle (407,31);
  \fill[pillg] (375,9) rectangle (383,31);
  \fill[pillp] (383,9) rectangle (390,31);
  \fill[muted!60,rounded corners=1pt] (365,17) rectangle (378,23);
  \draw[dn,line width=0.6pt] (390,18) .. controls (392,16) and (394,20) .. (397,17.5);
  \draw[dn,line width=0.6pt] (390,23) .. controls (392,21) and (394,25) .. (397,22.5);
  \node[anchor=west] at (428.7,20) {\fs{8.15}O\textcolor{up}{2047.530}};
  \node[anchor=west] at (517.4,20) {\fs{8.15}H\textcolor{up}{2049.285}};
  \node[anchor=west] at (606,20) {\fs{8.15}L\textcolor{up}{2046.925}};
  \node[anchor=west] at (692,20) {\fs{8.15}C\textcolor{up}{2049.155}};
  \node[anchor=west,text=up] at (779,20) {\fs{8.15}+1.625 (+0.08\%)};
  % bid / ask
  \draw[dn,line width=0.5pt,rounded corners=2pt] (11,40.5) rectangle (96,69.5);
  \node[text=dn] at (53.5,55) {\fs{8}2048.85\textsuperscript{0}};
  \node[text=muted] at (119,55) {\fs{7.3}61.0};
  \draw[sel,line width=0.5pt,rounded corners=2pt] (143.5,40.5) rectangle (228.5,69.5);
  \node[text=sel] at (186,55) {\fs{8}2049.46\textsuperscript{0}};
  % indicator lines
  \node[anchor=west,text=muted] at (11,90) {\fs{8.1}Ichimoku 9 26 52 26};
  \node[anchor=west,text=muted] at (11,120) {\fs{8.1}Multi EMA 3 5 10 20 200};
  \node[anchor=west,text=emaO] at (200,120) {\fs{8}2047.439};
  \node[anchor=west,text=emaB] at (275,120) {\fs{8}2044.112};
  \draw[fill=white,draw=line,line width=0.5pt,rounded corners=2pt] (11.5,138.5) rectangle (47,163);
  \draw[txt,line width=0.7pt] (23.5,153) -- (29,148) -- (34.5,153);
  % currency select
  \draw[fill=white,draw=line,line width=0.5pt,rounded corners=3pt] (1841,5) rectangle (1915,36);
  \node[anchor=west] at (1845,21) {\fs{7.3}USD};
  \draw[txt,line width=0.5pt] (1902,20) -- (1905,23) -- (1908,20);
  % measure tooltip
  \foreach \k in {3,2,1} \fill[black,opacity=0.03,rounded corners=3pt] (1150-\k,30-\k+1) rectangle (1305+\k,111+\k+1);
  \fill[white,rounded corners=3pt] (1150,30) rectangle (1305,111);
  \node at (1228,46) {\fs{7.15}8.675 (0.42\%) 867.5};
  \node at (1228,71) {\fs{7.15}213 thanh, 14n 6g};
  \node at (1228,96) {\fs{7.15}Khối lượng 1.433M};
  % price tags
  \fill[tagl] (1793.5,89) rectangle (1834.5,110);
  \fill[tagl] (1835.5,89) rectangle (1915,110);
  \node at (1814,100) {\fs{7.1}Đỉnh};
  \node at (1876,100) {\fs{7.3}2088.545};
  \fill[sel,rounded corners=1pt] (1835,114) rectangle (1915,135);
  \node[text=white] at (1876,125) {\fs{7.3}\textbf{2086.273}};
  \fill[sel,rounded corners=1pt] (1835,207) rectangle (1915,228);
  \node[text=white] at (1876,218) {\fs{7.3}\textbf{2077.598}};
  \fill[up,rounded corners=1pt] (1769,514.5) rectangle (1833,535.5);
  \fill[up,rounded corners=1pt] (1835,514.5) rectangle (1913,535.5);
  \node[text=white] at (1801,525.5) {\fs{6.8}XAUUSD};
  \node[text=white] at (1875,525.5) {\fs{7.3}\textbf{2049.155}};
  \fill[darktag,rounded corners=1pt] (1835,733) rectangle (1913,753);
  \node[text=white] at (1875,743.5) {\fs{7.3}\textbf{2029.015}};
  \draw[fill=white,draw=dn,line width=0.5pt,rounded corners=1pt] (1835.5,891) rectangle (1913,910.5);
  \node[text=dn] at (1875,901) {\fs{7.3}2014.460};
  \fill[tagl] (1798,912) rectangle (1834.5,932);
  \fill[tagl] (1835.5,912) rectangle (1913,932);
  \node at (1816,922) {\fs{7.1}Đáy};
  \node at (1875,922.5) {\fs{7.3}2013.390};
  % scroll button
  \foreach \k in {3,2,1} \fill[black,opacity=0.03,rounded corners=3pt] (1780-\k,922-\k+1) rectangle (1810+\k,952+\k+1);
  \fill[white,rounded corners=3pt] (1780,922) rectangle (1810,952);
  \draw[txt,line width=0.7pt] (1790,931) -- (1795,937) -- (1790,943);
  \draw[txt,line width=0.7pt] (1797,931) -- (1802,937) -- (1797,943);
  % lower-left measure card and logo
  \fill[white,rounded corners=3pt] (-8,911) rectangle (60,992);
  \node[anchor=east] at (49,926) {\fs{7.1}-1861.5};
  \node[anchor=west] at (-3,977) {\fs{7.1}.92k};
  \foreach \dx/\dy in {-1/0,1/0,0/-1,0/1,-1/-1,1/1,-1/1,1/-1}
    \node[anchor=west,text=white] at (62+\dx,967.5+\dy) {\fs{12.6}\textbf{TradingView}};
  \node[anchor=west] at (62,967.5) {\fs{12.6}\textbf{TradingView}};
  \fill[txt] (14,957) rectangle (33,963.5);
  \fill[txt] (24,957) rectangle (33,975);
  \fill[txt] (40,960.5) circle (3.5);
  \fill[txt] (44,957) -- (52,957) -- (45,975) -- (36,975) -- cycle;
  % time-axis range labels
  \fill[sel,rounded corners=1pt] (512,992) rectangle (767,1022);
  \node[text=white] at (639.5,1011) {\fs{7.25}Th 4 27 Tháng Mười hai '23\hspace{7pt}22:00};
  \fill[sel,rounded corners=1pt] (1632,992) rectangle (1834,1022);
  \node[text=white] at (1733,1011) {\fs{7.25}Th 5 11 Tháng 1 '24\hspace{7pt}04:00};
  % settings, A and L buttons
  \draw[txt,line width=0.55pt] (1870,1009) -- (1874,1002) -- (1882,1002) -- (1886,1009) -- (1882,1016) -- (1874,1016) -- cycle;
  \draw[txt,line width=0.55pt] (1878,1009) circle (2.5);
  \fill[tagl,rounded corners=2pt] (1850,960) rectangle (1875,987);
  \node[text=sel] at (1862.5,974) {\fs{8}A};
  \draw[line,line width=0.5pt,rounded corners=2pt] (1880,960.5) rectangle (1905,987);
  \node at (1892.5,974) {\fs{8}L};
  % bottom bar
  \draw[line,line width=1pt] (0,1026) -- (1920,1026);
  \fill[line] (0,1075) rectangle (1920,1080);
  \foreach \tx/\lbl in {45.5/1 Ngày,116/5 Ngày,181/1 Thg,240/3 Thg,299.5/6 Thg,354.5/YTD,399/1N,435.5/5N,486/Tất cả}
    \node at (\tx,1050) {\fs{8.3}\lbl};
  \draw[line,line width=0.5pt] (523.6,1037) -- (523.6,1065);
  \draw[txt,line width=0.5pt] (544,1051) -- (544,1041) -- (564,1041) -- (564,1060) -- (552,1060);
  \draw[txt,line width=0.5pt] (544,1045.5) -- (564,1045.5);
  \draw[txt,line width=0.5pt] (549,1038) -- (549,1043) (559,1038) -- (559,1043);
  \draw[txt,line width=0.5pt] (541,1056) -- (549,1056) (546,1053) -- (549,1056) -- (546,1059);
  \node[anchor=east] at (1913,1050) {\fs{8.8}04:35:39 (UTC-10)};
  % floating drawing toolbar
  \foreach \k in {4,3,2,1} \fill[black,opacity=0.03,rounded corners=5pt] (393-\k,704-\k+1) rectangle (755+\k,751+\k+2);
  \fill[white,rounded corners=4pt] (393,704) rectangle (755,751);
  \foreach \tx in {436,482,626,675,720} \draw[txt!70,line width=0.4pt] (\tx,739) circle (2);
  \draw[txt!70,line width=0.4pt] (484,740) -- (507,740);
  \draw[txt!70,line width=0.4pt] (678,741) -- (698,741);
  \fill[sel] (589.5,737) rectangle (590.5,743);
  \draw[txt,line width=0.5pt] (745,716) -- (745,741);
  \foreach \k in {4,3,2,1} \fill[black,opacity=0.03,rounded corners=5pt] (296-\k,690-\k+1) rectangle (744+\k,738+\k+2);
  \fill[white,rounded corners=4pt] (296,690) rectangle (744,738);
  \foreach \tx in {306.7,315.3} \foreach \ty in {706.7,713.3,720} \fill[black!25] (\tx,\ty) circle (1.5);
  \draw[txt,line width=0.55pt,rounded corners=1pt] (340,703.5) rectangle (349.5,712.5) (352,703.5) rectangle (361,712.5) (340,715.5) rectangle (349.5,724);
  \draw[txt,line width=0.55pt] (351.5,720) -- (360.5,720) (356,715.5) -- (356,724.5);
  \draw[txt,line width=0.55pt] (388,717) -- (389,711) -- (401,700.5) -- (406,705.5) -- (394,716.5) -- cycle (389,711) -- (394,716.5) (398,703) -- (403,708);
  \fill[sel,rounded corners=2pt] (383.5,724) rectangle (411,728.5);
  \draw[txt,line width=0.55pt] (441,708) -- (448,701) -- (455,710) -- (448,717) -- cycle;
  \fill[txt] (437.5,714) circle (2.6);
  \draw[txt,line width=0.5pt] (447,709) -- (447,701) circle (1.5);
  \fill[sel!35,rounded corners=1pt] (431,724) rectangle (458,728.5);
  \draw[txt,line width=0.9pt] (481,713.7) -- (503,713.7);
  \node[text=muted] at (526.7,713.5) {\fs{8}2px};
  \foreach \a in {0,45,...,315} \draw[txt,line width=1.2pt] ($(577.7,713.3)+(\a:8.2)$) -- ($(577.7,713.3)+(\a:11)$);
  \draw[txt,line width=0.55pt] (577.7,713.3) circle (8.2);
  \draw[txt,line width=0.55pt] (577.7,713.3) circle (3.4);
  \fill[sel,rounded corners=3pt] (607,695) rectangle (644,732.7);
  \draw[white,line width=0.55pt,rounded corners=1.5pt] (616,712.7) rectangle (635,725);
  \draw[white,line width=0.55pt] (619.5,712.7) arc[start angle=180,end angle=360,radius=6];
  \fill[white] (625,716) rectangle (626.5,721);
  \draw[txt,line width=0.55pt] (661.5,705.5) -- (683,705.5) (668,705.5) -- (669,702.5) -- (676,702.5) -- (677,705.5);
  \draw[txt,line width=0.55pt,rounded corners=1pt] (664,705.5) -- (664,725) -- (681,725) -- (681,705.5);
  \draw[txt,line width=0.55pt] (669,711) -- (669,720) (676,711) -- (676,720);
  \foreach \tx in {712.7,721,730} \draw[txt,line width=0.55pt] (\tx,714) circle (2.6);
\end{scope}
\end{tikzpicture}
\end{document}
